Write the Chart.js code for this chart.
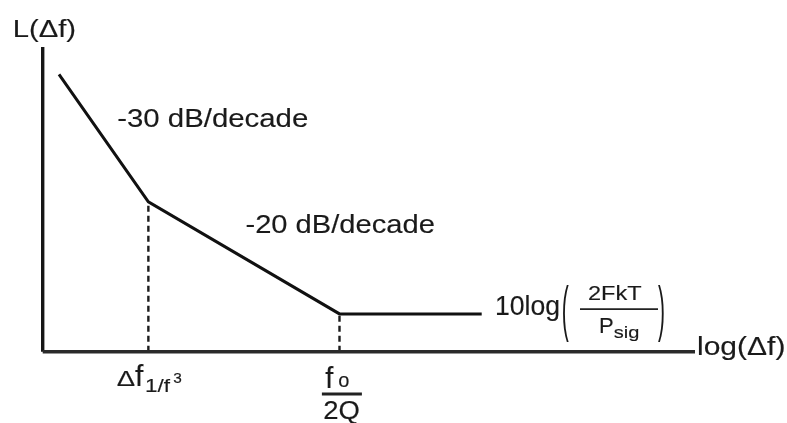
<!DOCTYPE html>
<html><head><meta charset="utf-8">
<script src="https://cdn.jsdelivr.net/npm/chart.js@4"></script>
<style>html,body{margin:0;padding:0;background:#fff;}#wrap{width:787px;height:423px;}</style>
</head><body><div id="wrap"><canvas id="c" width="787" height="423"></canvas></div>
<script>
// ---- data (x: log-frequency units, y: phase-noise level units) ----
const curveX = [0.25, 1.62, 4.55, 6.73];
const curveY = [91.0, 49.2, 12.4, 12.4];
const xAxisRange = [0, 10];
const yAxisRange = [0, 100];
const slopeLabels = ['-30 dB/decade', '-20 dB/decade'];
const axisTitles = ['L(\u0394f)', 'log(\u0394f)'];
const floorLabel = ['10log', '(', '2FkT', 'P', 'sig', ')'];
const tickLabel1 = ['\u0394', 'f', '1/f', '3'];
const tickLabel2 = ['f', 'o', '2Q'];

const FONT = '"Liberation Sans", Arial, sans-serif';
const INK = '#1a1a1a';

function pts(xs, ys) { return xs.map((x, i) => ({ x: x, y: ys[i] })); }

const datasets = [
  { data: pts([xAxisRange[0], xAxisRange[1]], [yAxisRange[0], yAxisRange[0]]), borderColor: '#2a2a2a', borderWidth: 3.4 },
  { data: pts([xAxisRange[0], xAxisRange[0]], [yAxisRange[0], yAxisRange[1]]), borderColor: '#161616', borderWidth: 3.4 },
  { data: pts([curveX[1], curveX[1]], [yAxisRange[0], curveY[1]]), borderColor: '#1c1c1c', borderWidth: 2.4, borderDash: [6, 4] },
  { data: pts([curveX[2], curveX[2]], [yAxisRange[0], curveY[2]]), borderColor: '#1c1c1c', borderWidth: 2.4, borderDash: [6, 4] },
  { data: pts(curveX, curveY), borderColor: '#111111', borderWidth: 3 }
].map(d => Object.assign({ showLine: true, pointRadius: 0, tension: 0, clip: false, fill: false }, d));

function txt(ctx, s, x, y, size, sx, sy, weight) {
  ctx.save();
  ctx.font = size + 'px ' + FONT;
  ctx.fillStyle = INK;
  ctx.strokeStyle = INK;
  ctx.textAlign = 'left';
  ctx.textBaseline = 'alphabetic';
  ctx.translate(x, y);
  ctx.scale(sx || 1, sy || 1);
  ctx.fillText(s, 0, 0);
  const w = weight === undefined ? 0.15 : weight;
  if (w > 0) { ctx.lineWidth = w; ctx.strokeText(s, 0, 0); }
  ctx.restore();
}
function bar(ctx, x1, x2, y, w) {
  ctx.save();
  ctx.strokeStyle = '#222';
  ctx.lineWidth = w;
  ctx.beginPath(); ctx.moveTo(x1, y); ctx.lineTo(x2, y); ctx.stroke();
  ctx.restore();
}

const annotations = {
  id: 'annotations',
  afterDatasetsDraw(chart) {
    const ctx = chart.ctx;
    const X = v => chart.scales.x.getPixelForValue(v);
    const Y = v => chart.scales.y.getPixelForValue(v);

    // slope labels, anchored at the middle of each sloped segment
    const m1x = (X(curveX[0]) + X(curveX[1])) / 2, m1y = (Y(curveY[0]) + Y(curveY[1])) / 2;
    txt(ctx, slopeLabels[0], m1x + 13.5, m1y - 11, 26, 1.13);
    const m2x = (X(curveX[1]) + X(curveX[2])) / 2, m2y = (Y(curveY[1]) + Y(curveY[2])) / 2;
    txt(ctx, slopeLabels[1], m2x + 1.5, m2y - 24.6, 26, 1.12);

    // axis titles
    txt(ctx, axisTitles[0], X(xAxisRange[0]) - 30, Y(yAxisRange[1]) - 10, 23, 1.27);
    txt(ctx, axisTitles[1], X(xAxisRange[1]) + 2, Y(yAxisRange[0]) + 3.5, 25, 1.2);

    // noise-floor label at end of flat segment
    const ex = X(curveX[3]), ey = Y(curveY[3]);
    txt(ctx, floorLabel[0], ex + 13.3, ey + 1, 28, 0.95);
    txt(ctx, floorLabel[1], ex + 80, ey + 15, 30, 0.7, 2.02, 0);
    txt(ctx, floorLabel[2], ex + 106.3, ey - 14, 21, 1.12);
    bar(ctx, ex + 98.3, ex + 176.3, ey - 4.7, 1.8);
    txt(ctx, floorLabel[3], ex + 117.3, ey + 19.3, 22, 1.0);
    txt(ctx, floorLabel[4], ex + 132, ey + 24, 16, 1.25);
    txt(ctx, floorLabel[5], ex + 176.3, ey + 15, 30, 0.7, 2.02, 0);

    // corner-frequency tick labels
    const t1x = X(curveX[1]), t0y = Y(yAxisRange[0]);
    txt(ctx, tickLabel1[0], t1x - 31.6, t0y + 34.3, 22, 1.25);
    txt(ctx, tickLabel1[1], t1x - 13.3, t0y + 34.3, 30, 1.0);
    txt(ctx, tickLabel1[2], t1x - 3.3, t0y + 39.8, 18, 1.25);
    txt(ctx, tickLabel1[3], t1x + 25, t0y + 31.3, 14, 1.1);

    const t2x = X(curveX[2]);
    txt(ctx, tickLabel2[0], t2x - 14.3, t0y + 36.3, 29, 1.0);
    txt(ctx, tickLabel2[1], t2x - 1.3, t0y + 35.3, 20, 1.0);
    bar(ctx, t2x - 17.6, t2x + 22.4, t0y + 42.3, 3);
    txt(ctx, tickLabel2[2], t2x - 16.3, t0y + 67.3, 25, 1.1);
  }
};

new Chart(document.getElementById('c'), {
  type: 'scatter',
  data: { datasets: datasets },
  options: {
    responsive: false,
    animation: false,
    devicePixelRatio: 1,
    layout: { padding: { left: 42.7, right: 92, top: 47, bottom: 71.3 } },
    plugins: { legend: { display: false }, tooltip: { enabled: false }, title: { display: false } },
    scales: {
      x: { type: 'linear', min: xAxisRange[0], max: xAxisRange[1], display: false },
      y: { type: 'linear', min: yAxisRange[0], max: yAxisRange[1], display: false }
    }
  },
  plugins: [annotations]
});
</script></body></html>
